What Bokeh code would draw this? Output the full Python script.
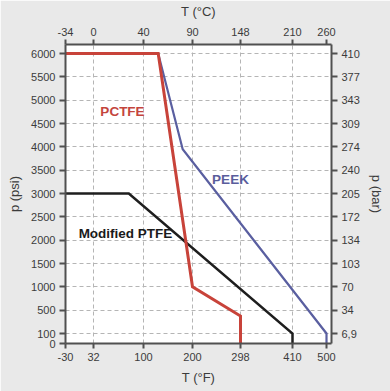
from bokeh.plotting import figure
from bokeh.models import (ColumnDataSource, Range1d, LinearAxis, FixedTicker,
                          Label, LinearInterpolator)
from bokeh.transform import transform
from bokeh.embed import file_html
from bokeh.resources import INLINE

# ---- tick values / labels ----
temp_f_ticks = [-30, 32, 100, 200, 298, 410, 500]
temp_c_labels = ["-34", "0", "40", "90", "148", "210", "260"]
psi_ticks = [0, 100, 500, 1000, 1500, 2000, 2500, 3000, 3500, 4000, 4500, 5000, 5500, 6000]
bar_labels = ["6,9", "34", "70", "103", "134", "172", "205", "240", "274", "309", "343", "377", "410"]

# ---- series (T in °F, p in psi) ----
pctfe_temp = [-30, 130, 200, 298, 298]
pctfe_psi = [6000, 6000, 1000, 400, 0]
peek_temp = [-30, 130, 180, 500, 500]
peek_psi = [6000, 6000, 3950, 100, 0]
ptfe_temp = [-30, 80, 410, 410]
ptfe_psi = [3000, 3000, 100, 0]

# ---- schematic (non-uniform) axis layout of the original chart ----
X_POS = [0, 28, 78, 127, 175, 227, 261]
Y_POS = [0, 30, 100, 170, 240, 310, 380, 450, 520, 590, 660, 730, 800, 870]

fx = LinearInterpolator(x=temp_f_ticks, y=X_POS, clip=False)
fy = LinearInterpolator(x=psi_ticks, y=Y_POS, clip=False)

BG = "#e9e9e9"
AX = "#505050"
TXT = "#3c3c3c"
FONT = "Liberation Sans"

p = figure(frame_width=266, frame_height=299,
           x_range=Range1d(0, 266), y_range=Range1d(0, 897),
           output_backend="svg", toolbar_location=None,
           min_border_left=65, min_border_right=59,
           min_border_top=43, min_border_bottom=49,
           background_fill_color="white", border_fill_color=BG,
           outline_line_color=None,
           x_axis_label="T (°F)", y_axis_label="p (psi)")

bottom = p.below[0]
left = p.left[0]

# grids
p.xgrid.ticker = FixedTicker(ticks=X_POS[1:6])
p.ygrid.ticker = FixedTicker(ticks=Y_POS[1:])
for g in (p.xgrid[0], p.ygrid[0]):
    g.grid_line_color = "#b5b5b5"
    g.grid_line_dash = "4 3"
    g.grid_line_width = 1

# axes
bottom.ticker = FixedTicker(ticks=X_POS)
bottom.major_label_overrides = {x: str(v) for x, v in zip(X_POS, temp_f_ticks)}
left.ticker = FixedTicker(ticks=Y_POS)
left.major_label_overrides = {y: str(v) for y, v in zip(Y_POS, psi_ticks)}

top = LinearAxis(ticker=FixedTicker(ticks=X_POS), axis_label="T (°C)",
                 major_label_overrides={x: s for x, s in zip(X_POS, temp_c_labels)})
right = LinearAxis(ticker=FixedTicker(ticks=Y_POS[1:]), axis_label="p (bar)",
                   major_label_overrides={y: s for y, s in zip(Y_POS[1:], bar_labels)})
p.add_layout(top, "above")
p.add_layout(right, "right")

for ax in (bottom, left, top, right):
    ax.axis_line_color = AX
    ax.axis_line_width = 2
    ax.major_tick_line_color = AX
    ax.major_tick_line_width = 2
    ax.major_tick_out = 6
    ax.major_tick_in = 0
    ax.minor_tick_line_color = None
    ax.major_label_text_font = FONT
    ax.major_label_text_font_size = "11px"
    ax.major_label_text_color = TXT
    ax.major_label_standoff = 4
    ax.axis_label_text_font = FONT
    ax.axis_label_text_font_size = "13px"
    ax.axis_label_text_font_style = "normal"
    ax.axis_label_text_color = TXT
    ax.axis_label_standoff = 6
bottom.major_tick_out = 5
top.major_tick_out = 5

def draw(t, pr, color, width):
    src = ColumnDataSource(dict(t=t, p=pr))
    p.line(x=transform("t", fx), y=transform("p", fy), source=src,
           line_color=color, line_width=width, line_join="miter")

draw(ptfe_temp, ptfe_psi, "#1e1e1e", 2.5)
draw(peek_temp, peek_psi, "#5a5fa0", 2.2)
draw(pctfe_temp, pctfe_psi, "#c8433a", 3)

for txt, x, y, col in (("PCTFE", 57, 696, "#c4453d"),
                       ("PEEK", 165, 492, "#5a5d9c"),
                       ("Modified PTFE", 60, 330, "#1a1a1a")):
    p.add_layout(Label(x=x, y=y, text=txt, text_align="center", text_baseline="middle",
                       text_font=FONT, text_font_style="bold", text_font_size="13.5px",
                       text_color=col))

open("out.html", "w").write(file_html(p, INLINE))
